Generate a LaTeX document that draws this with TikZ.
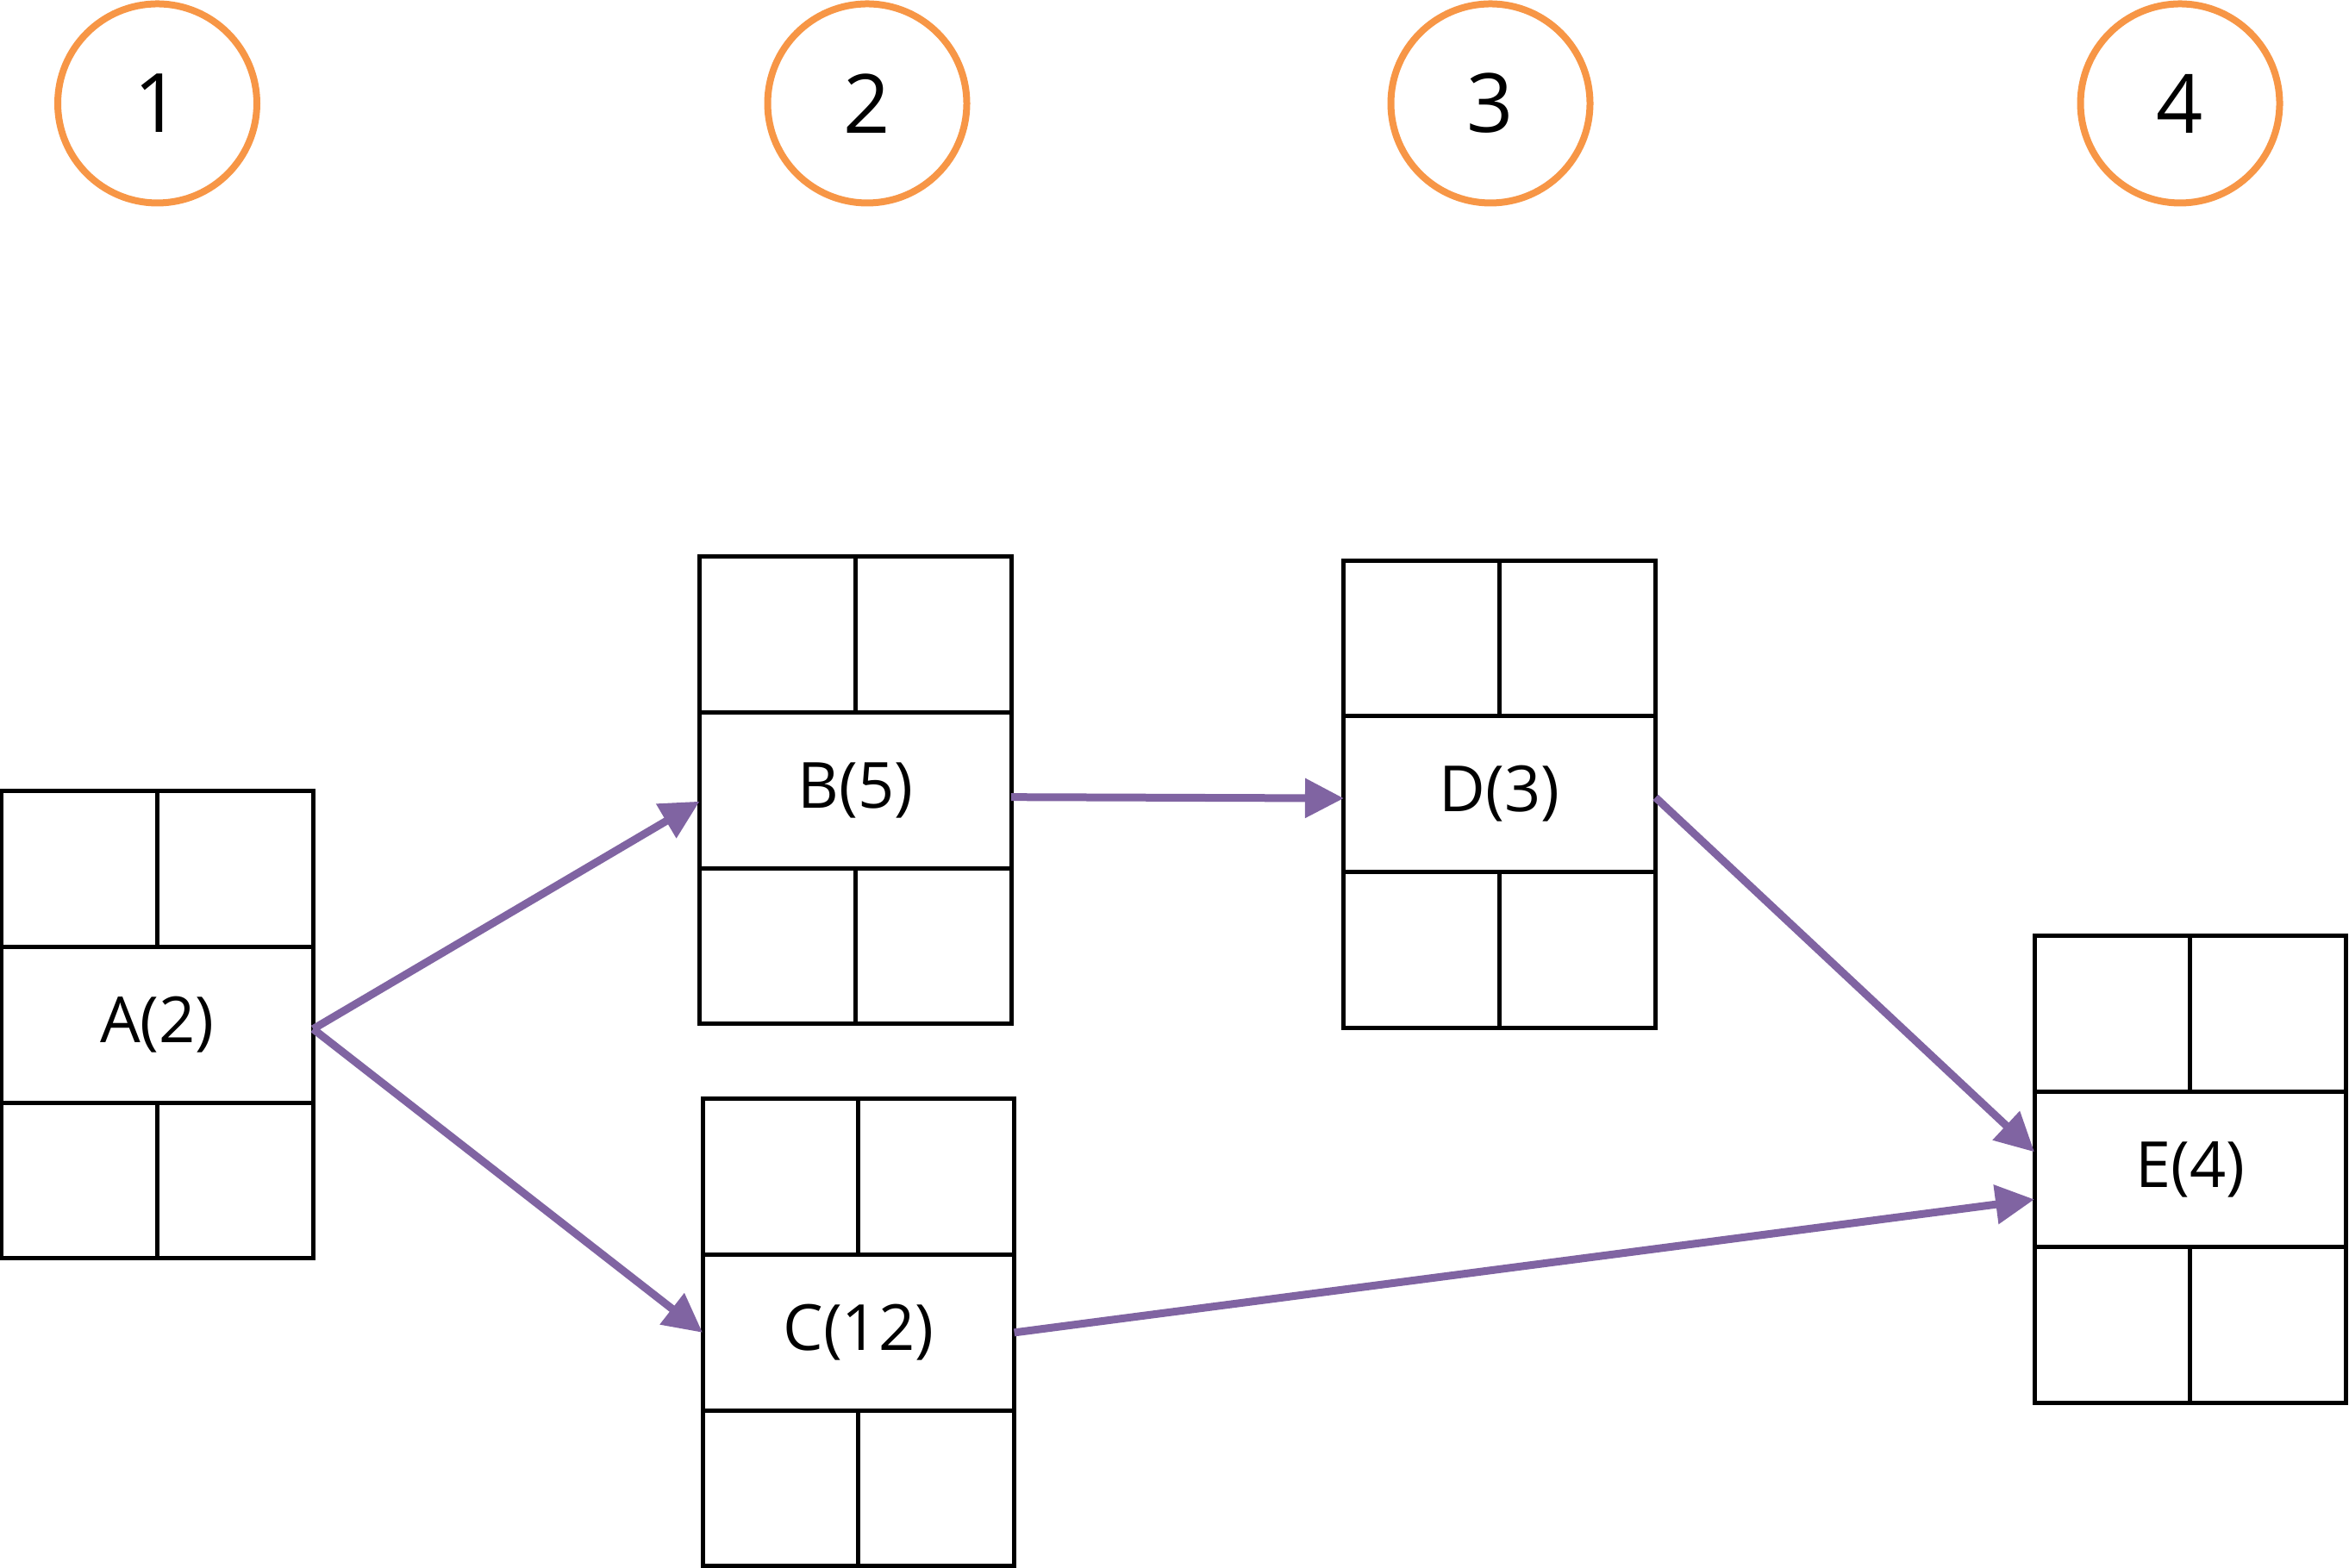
\documentclass[tikz,border=0pt]{standalone}
\usepackage{fontspec}
\setmainfont{Open Sans}
\usetikzlibrary{arrows.meta}
\definecolor{stageorange}{HTML}{F79646}
\definecolor{linkpurple}{HTML}{8064A2}
\tikzset{
    stage/.style={draw=stageorange,circle,line width=0.08cm,minimum size=2.31cm,inner sep=0pt,font=\fontsize{27}{32}\selectfont},
    task/.style={draw,rectangle,line width=0.05cm,outer sep=0pt,minimum width=3.615cm,minimum height=1.807cm,inner sep=0pt,font=\fontsize{21}{25}\selectfont},
    cell/.style={draw,rectangle,line width=0.05cm,outer sep=0pt,minimum width=1.8075cm,minimum height=1.807cm,inner sep=0pt},
    link/.style={-{Triangle[length=0.45cm,width=0.44cm]},line width=0.09cm,color=linkpurple}
}
\begin{document}
\begin{tikzpicture}
    \useasboundingbox (0,0) rectangle (27.25,18.19);

    \node (s1) at (1.825,16.99) [stage] {1};
    \node (s2) at (10.06,16.99) [stage] {2};
    \node (s3) at (17.29,16.99) [stage] {3};
    \node (s4) at (25.29,16.99) [stage] {4};

    \node (A) at (1.825,6.303) [task] {A(2)};
    \node (B) at (9.923,9.023) [task] {B(5)};
    \node (C) at (9.958,2.731) [task] {C(12)};
    \node (D) at (17.397,8.979) [task] {D(3)};
    \node (E) at (25.408,4.626) [task] {E(4)};

    \node (A1) at (A.north west) [cell,anchor=south west] {};
    \node (A2) at (A.north east) [cell,anchor=south east] {};
    \node (A3) at (A.south west) [cell,anchor=north west] {};
    \node (A4) at (A.south east) [cell,anchor=north east] {};
    \node (B1) at (B.north west) [cell,anchor=south west] {};
    \node (B2) at (B.north east) [cell,anchor=south east] {};
    \node (B3) at (B.south west) [cell,anchor=north west] {};
    \node (B4) at (B.south east) [cell,anchor=north east] {};
    \node (C1) at (C.north west) [cell,anchor=south west] {};
    \node (C2) at (C.north east) [cell,anchor=south east] {};
    \node (C3) at (C.south west) [cell,anchor=north west] {};
    \node (C4) at (C.south east) [cell,anchor=north east] {};
    \node (D1) at (D.north west) [cell,anchor=south west] {};
    \node (D2) at (D.north east) [cell,anchor=south east] {};
    \node (D3) at (D.south west) [cell,anchor=north west] {};
    \node (D4) at (D.south east) [cell,anchor=north east] {};
    \node (E1) at (E.north west) [cell,anchor=south west] {};
    \node (E2) at (E.north east) [cell,anchor=south east] {};
    \node (E3) at (E.south west) [cell,anchor=north west] {};
    \node (E4) at (E.south east) [cell,anchor=north east] {};

    \draw[link] ([yshift=-0.05cm]A.east) to ([yshift=-0.13cm]B.west);
    \draw[link] ([yshift=-0.05cm]A.east) to (C.west);
    \draw[link] ([yshift=-0.08cm]B.east) to ([yshift=-0.05cm]D.west);
    \draw[link] ([yshift=-0.04cm]D.east) to ([yshift=0.2cm]E.west);
    \draw[link] (C.east) to ([yshift=-0.35cm]E.west);

\end{tikzpicture}
\end{document}
